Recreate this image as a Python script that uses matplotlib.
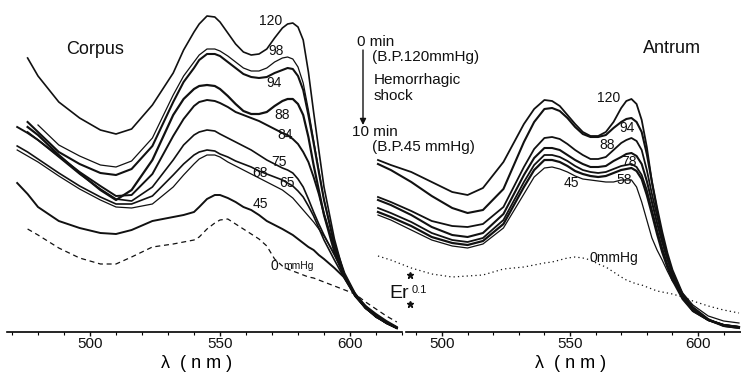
import numpy as np
import matplotlib
matplotlib.use('Agg')
import matplotlib.pyplot as plt
from matplotlib.ticker import FixedLocator

plt.rcParams['font.family'] = ['Liberation Sans', 'DejaVu Sans']

nan = np.nan

# ---- Corpus (left panel): wavelength grid (nm) and relative absorbance (30 units = 0.1)
corpus_nm = [472, 476, 480, 488, 496, 504, 510, 516, 524, 532, 536, 540, 542, 545,
             548, 550, 553, 556, 559, 562, 565, 568, 571, 574, 576, 578, 580, 582,
             584, 586, 588, 590, 594, 598, 602, 606, 610, 614, 618]
corpus_120 = [nan, 274, 256, 230, 214, 202, 198, 203, 227, 259, 282, 300, 308, 316,
              315, 310, 299, 288, 280, 277, 278, 283, 294, 304, 308, 309, 305, 292,
              260, 220, 182, 145, 93, 55, 36, 26, 15, 10, 4]
corpus_98 = [nan, nan, 207, 187, 176, 167, 165, 171, 194, 237, 256, 270, 277, 283,
             283, 281, 276, 270, 264, 261, 261, 264, 270, 274, 275, 273, 265, 249,
             222, 192, 162, 132, 89, 59, 39, 25, 17, 10, 5]
corpus_94 = [nan, 210, 200, 180, 168, 159, 157, 163, 186, 230, 250, 264, 272, 278,
             278, 276, 270, 264, 258, 255, 254, 255, 259, 262, 264, 263, 256, 242,
             217, 189, 160, 132, 87, 55, 37, 24, 16, 9, 4]
corpus_88 = [nan, 205, 197, 177, 159, 142, 132, 142, 172, 217, 233, 243, 246, 247,
             246, 243, 236, 228, 221, 218, 218, 220, 226, 231, 233, 233, 228, 217,
             195, 167, 142, 117, 80, 54, 36, 24, 16, 9, 4]
corpus_84 = [205, 199, 192, 176, 160, 146, 136, 137, 158, 196, 213, 226, 230, 232,
             231, 229, 225, 220, 217, 214, 211, 207, 203, 199, 197, 193, 188, 180,
             170, 155, 138, 118, 84, 56, 37, 24, 16, 9, 4]
corpus_75 = [nan, 200, 192, 175, 158, 143, 133, 131, 145, 172, 187, 197, 200, 202,
             201, 198, 194, 190, 186, 182, 177, 172, 168, 164, 162, 159, 153, 145,
             133, 120, 108, 97, 77, 56, 37, 24, 15, 9, 4]
corpus_68 = [186, 180, 173, 159, 146, 135, 128, 128, 136, 157, 168, 177, 180, 182,
             181, 178, 175, 171, 168, 165, 161, 158, 155, 152, 149, 146, 141, 135,
             126, 116, 104, 92, 72, 53, 36, 24, 15, 9, 4]
corpus_65 = [182, 176, 170, 156, 143, 132, 125, 124, 128, 145, 157, 168, 173, 177,
             177, 175, 170, 166, 162, 158, 154, 150, 146, 142, 138, 134, 128, 122,
             116, 110, 103, 96, 78, 56, 38, 25, 16, 9, 4]
corpus_45 = [149, 138, 125, 111, 104, 99, 98, 102, 111, 115, 117, 120, 125, 133,
             137, 137, 134, 130, 125, 122, 117, 111, 107, 103, 100, 97, 93, 89,
             85, 82, 77, 73, 64, 54, 38, 26, 18, 11, 5]
corpus_0 = [nan, 103, 97, 84, 74, 68, 68, 75, 85, 88, 90, 92, 95, 103,
            109, 112, 113, 108, 103, 98, 93, 86, 73, 66, 63, 61, 59, 57,
            55, 54, 52, 50, 46, 42, 38, 30, 23, 16, 10]

# ---- Antrum (right panel)
antrum_nm = [475, 480, 488, 496, 504, 510, 516, 524, 532, 536, 540, 543, 546, 549,
             552, 555, 558, 561, 564, 567, 570, 572, 574, 576, 578, 580, 582, 584,
             586, 588, 590, 594, 598, 604, 610, 616]
antrum_120 = [172, 167, 160, 150, 140, 137, 144, 170, 208, 223, 232, 231, 226, 217,
              208, 200, 196, 196, 200, 210, 224, 231, 233, 228, 212, 185, 150, 122,
              95, 76, 60, 37, 25, 13, 6, 4]
antrum_94 = [168, 162, 150, 136, 124, 119, 122, 143, 190, 210, 223, 224, 221, 214,
             205, 198, 195, 195, 197, 204, 210, 213, 214, 210, 200, 178, 150, 124,
             100, 79, 62, 38, 24, 12, 6, 4]
antrum_88 = [135, 130, 121, 111, 106, 105, 108, 125, 165, 183, 194, 195, 193, 188,
             182, 177, 173, 173, 175, 182, 189, 192, 194, 191, 182, 162, 138, 116,
             95, 76, 60, 37, 23, 12, 7, 5]
antrum_78 = [132, 127, 117, 105, 97, 95, 99, 118, 157, 174, 184, 184, 182, 177,
             172, 168, 165, 165, 166, 171, 175, 178, 179, 176, 168, 151, 130, 109,
             90, 73, 58, 36, 22, 12, 7, 5]
antrum_68 = [124, 119, 110, 99, 92, 90, 94, 112, 150, 167, 177, 177, 175, 171,
             166, 162, 160, 159, 160, 163, 166, 167, 168, 165, 157, 142, 122, 102,
             84, 68, 55, 34, 21, 12, 7, 5]
antrum_58 = [120, 115, 106, 95, 89, 87, 91, 108, 145, 162, 172, 172, 170, 166,
             161, 158, 156, 155, 156, 159, 162, 163, 164, 161, 153, 137, 118, 98,
             80, 65, 52, 33, 21, 12, 7, 5]
antrum_45 = [117, 112, 102, 92, 86, 84, 88, 104, 138, 155, 164, 165, 163, 160,
             156, 153, 152, 151, 150, 150, 152, 152, 152, 145, 130, 112, 94, 82,
             72, 61, 51, 39, 27, 16, 11, 9]
antrum_0 = [76, 72, 64, 58, 55, 56, 57, 63, 65, 67, 69, 70, 72, 74,
            75, 74, 72, 68, 65, 60, 55, 52, 50, 48, 47, 45, 43, 41,
            40, 39, 38, 35, 31, 26, 22, 19]

# label positions (nm, height) next to each curve
corpus_labels = [('120', 569.5, 311), ('98', 571.5, 281), ('94', 570.8, 249),
                 ('88', 573.8, 217), ('84', 575.0, 197), ('75', 572.7, 170),
                 ('68', 565.4, 159), ('65', 575.8, 149), ('45', 565.4, 128)]
antrum_labels = [('120', 565.2, 234), ('94', 572.3, 204), ('88', 564.5, 187),
                 ('78', 573.0, 170), ('58', 571.1, 152), ('45', 550.4, 149)]

# scale bar (Er 0.1 = 30 units)
scale_nm = [487.5, 487.5]
scale_h = [57, 28]

W, H = 741, 379
fig = plt.figure(figsize=(W / 100, H / 100), dpi=100)
ax1 = fig.add_axes([6.8 / W, 47 / H, 395.2 / W, 332 / H])
ax2 = fig.add_axes([370.3 / W, 47 / H, 373.8 / W, 332 / H])

ink = '#111111'

corpus = [(corpus_120, 1.2, '-'), (corpus_98, 0.9, '-'), (corpus_94, 1.5, '-'),
          (corpus_88, 1.6, '-'), (corpus_84, 1.4, '-'), (corpus_75, 1.2, '-'),
          (corpus_68, 1.2, '-'), (corpus_65, 0.9, '-'), (corpus_45, 1.4, '-'),
          (corpus_0, 0.9, (0, (4, 3)))]
for vals, lw, ls in corpus:
    ax1.plot(corpus_nm, vals, color=ink, lw=lw, ls=ls, solid_joinstyle='round')

antrum = [(antrum_120, 1.3, '-'), (antrum_94, 1.5, '-'), (antrum_88, 1.3, '-'),
          (antrum_78, 1.5, '-'), (antrum_68, 1.3, '-'), (antrum_58, 1.6, '-'),
          (antrum_45, 0.9, '-'), (antrum_0, 0.9, (0, (1, 2.5)))]
for vals, lw, ls in antrum:
    ax2.plot(antrum_nm, vals, color=ink, lw=lw, ls=ls, solid_joinstyle='round')

for ax, lo, hi, blo, bhi in [(ax1, 468, 620, 468, 620), (ax2, 472, 618, 486, 618)]:
    ax.set_xlim(lo, hi)
    ax.set_ylim(0, 332)
    ax.patch.set_visible(False)
    for s in ['top', 'left', 'right']:
        ax.spines[s].set_visible(False)
    ax.spines['bottom'].set_bounds(blo, bhi)
    ax.spines['bottom'].set_linewidth(1.2)
    ax.set_yticks([])
    ax.xaxis.set_major_locator(FixedLocator([500, 550, 600]))
    ax.xaxis.set_minor_locator(FixedLocator([v for v in range(470, 621, 10)
                                             if blo <= v <= bhi and v % 50]))
    ax.tick_params(axis='x', which='major', length=3, width=1, direction='out',
                   labelsize=11, pad=0.5, colors=ink)
    ax.tick_params(axis='x', which='minor', length=2.5, width=0.8, direction='out')

ax1.set_xlabel('λ  ( n m )', fontsize=13, va='center')
ax1.xaxis.set_label_coords(0.479, -0.095)
ax2.set_xlabel('λ  ( n m )', fontsize=13, va='center')
ax2.xaxis.set_label_coords(0.537, -0.095)

for t, x, y in corpus_labels:
    ax1.text(x, y, t, fontsize=10, ha='center', va='center', color=ink)
for t, x, y in antrum_labels:
    ax2.text(x, y, t, fontsize=10, ha='center', va='center', color=ink)

ax1.text(569.6, 66, '0', fontsize=10, ha='left', va='center', color=ink)
ax1.text(574.2, 66, 'mmHg', fontsize=7.5, ha='left', va='center', color=ink)
ax2.text(557.8, 74, '0mmHg', fontsize=10, ha='left', va='center', color=ink)

ax1.text(0.15, 0.85, 'Corpus', transform=ax1.transAxes, fontsize=13,
         ha='left', va='center', color=ink)
ax2.text(0.73, 0.855, 'Antrum', transform=ax2.transAxes, fontsize=13,
         ha='left', va='center', color=ink)


def px(x, y):
    return x / W, 1 - y / H


notes = [('0 min', 357, 42), ('(B.P.120mmHg)', 372, 57), ('Hemorrhagic', 374, 80),
         ('shock', 374, 96), ('10 min', 352, 132), ('(B.P.45 mmHg)', 372, 147)]
for t, x, y in notes:
    fx, fy = px(x, y)
    fig.text(fx, fy, t, fontsize=11, ha='left', va='center', color=ink)

ax2.annotate('', xy=px(363, 125), xycoords='figure fraction',
             xytext=px(363, 50), textcoords='figure fraction',
             arrowprops=dict(arrowstyle='-|>', lw=1, color=ink, mutation_scale=9,
                             shrinkA=0, shrinkB=0),
             annotation_clip=False)

ax2.plot(scale_nm, scale_h, ls='none', marker='*', ms=5, color=ink, clip_on=False)
fx, fy = px(389, 294)
fig.text(fx, fy, 'Er', fontsize=14, ha='left', va='center', color=ink)
fx, fy = px(412, 290)
fig.text(fx, fy, '0.1', fontsize=8, ha='left', va='center', color=ink)

fig.savefig('out.png', dpi=100)
